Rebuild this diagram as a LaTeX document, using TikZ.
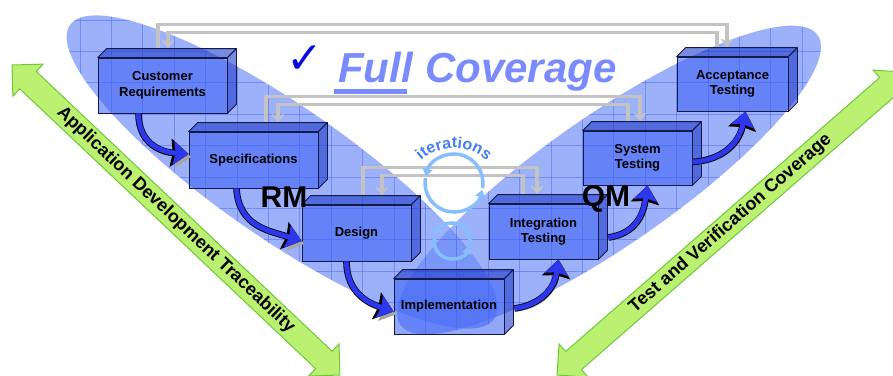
\documentclass[tikz,border=0pt]{standalone}
\usepackage{fontspec}
\setmainfont{Liberation Sans}
\newfontfamily\checkfont{DejaVu Sans}
\usetikzlibrary{arrows.meta,decorations.text,positioning}

\definecolor{lobeblue}{RGB}{105,135,248}
\definecolor{gridblue}{RGB}{80,110,245}
\definecolor{boxblue}{RGB}{55,95,245}
\definecolor{boxdark}{RGB}{30,60,205}
\definecolor{boxedge}{RGB}{20,25,70}
\definecolor{swooshblue}{RGB}{45,55,235}
\definecolor{shadowgray}{RGB}{165,165,165}
\definecolor{loopgray}{RGB}{195,195,195}
\definecolor{fullblue}{RGB}{122,138,255}
\definecolor{tickblue}{RGB}{10,10,225}
\definecolor{ringblue}{RGB}{135,190,255}
\definecolor{iterblue}{RGB}{70,125,245}
\definecolor{bandgreen}{RGB}{188,240,112}
\definecolor{bandedge}{RGB}{110,200,60}

\newcommand\iterfont{\color{iterblue}\bfseries\fontsize{16}{16}\selectfont}

\pgfdeclarelayer{back}
\pgfdeclarelayer{loops}
\pgfsetlayers{back,loops,main}

\tikzset{
  lobe/.style={fill=lobeblue, fill opacity=0.65},
  gridline/.style={draw=gridblue, line width=0.7pt, opacity=0.55},
  stage/.style={draw=boxedge, line width=0.8pt, fill=boxblue, fill opacity=0.55, text opacity=1,
    minimum height=55pt, inner sep=0pt, align=center, font=\bfseries\fontsize{13}{15.5}\selectfont},
  boxface/.style={draw=boxedge, line width=0.8pt, fill=boxdark, fill opacity=0.6, line join=round},
  loopline/.style={draw=loopgray, line width=3.2pt, -{Stealth[length=9pt,width=13pt,inset=3pt]}},
  swoosh/.style={draw=swooshblue, line width=5pt, -{Stealth[length=6pt 1.8,width=8pt 3,inset=2pt]},
    preaction={draw=shadowgray, transform canvas={shift={(2.5pt,-3pt)}}},
    preaction={draw=black, line width=6.6pt}},
  ring/.style={draw=ringblue, line width=3.5pt, -{Triangle[length=7pt,width=10pt]}},
  bigarrow/.style={fill=bandgreen, draw=bandedge, line width=1pt},
  bandtext/.style={font=\bfseries\fontsize{18}{18}\selectfont, inner sep=0pt},
  covtext/.style={inner sep=0pt, text=fullblue, font=\bfseries\itshape\fontsize{42}{42}\selectfont},
  bigmark/.style={inner sep=0pt, font=\bfseries\fontsize{30}{30}\selectfont}
}

\begin{document}
\begin{tikzpicture}[x=1pt,y=-1pt]
  \useasboundingbox (0,0) rectangle (893,375);

  % the two lobes with their grid
  \begin{pgfonlayer}{back}
    \foreach \cx/\cy/\tilt/\ra/\rb in {282/172/-34.7/258/66, 609/180/34.75/254/65}{
      \fill[lobe, rotate around={\tilt:(\cx,\cy)}] (\cx,\cy) ellipse [x radius=\ra, y radius=\rb];
      \begin{scope}
        \clip[rotate around={\tilt:(\cx,\cy)}] (\cx,\cy) ellipse [x radius=\ra, y radius=\rb];
        \foreach \gx in {17.2,48.6,...,893} \draw[gridline] (\gx,0) -- (\gx,375);
        \foreach \gy in {20,51.4,...,375} \draw[gridline] (0,\gy) -- (893,\gy);
      \end{scope}
    }
  \end{pgfonlayer}

  % stages
  \node[stage, minimum width=129pt] (cr) at (162.5,85.5) {Customer\\Requirements};
  \node[stage, minimum width=129pt, minimum height=56pt] (spec) at (253.5,160) {Specifications};
  \node[stage, minimum width=109pt, minimum height=56pt] (design) at (356.5,233) {Design};
  \node[stage, minimum width=110pt] (impl) at (449,306.5) {Implementation};
  \node[stage, minimum width=109pt] (integ) at (543.5,231.5) {Integration\\Testing};
  \node[stage, minimum width=109pt, minimum height=54pt] (systest) at (637.5,158) {System\\Testing};
  \node[stage, minimum width=111pt, minimum height=54pt] (accept) at (732.5,84) {Acceptance\\Testing};
  \foreach \boxname in {cr,spec,design,impl,integ,systest,accept}{
    \filldraw[boxface] (\boxname.north west) -- ++(9,-9) -- ([shift={(9,-9)}]\boxname.north east) -- (\boxname.north east) -- cycle;
    \filldraw[boxface] (\boxname.north east) -- ++(9,-9) -- ([shift={(9,-9)}]\boxname.south east) -- (\boxname.south east) -- cycle;
  }

  % feedback loops
  \begin{pgfonlayer}{loops}
    \draw[loopline] ([shift={(-4.5,-9)}]cr.north) -- ++(0,-24) -| ([shift={(-5.5,-9)}]accept.north);
    \draw[loopline] ([shift={(-15.5,-9)}]accept.north) -- ++(0,-15) -| ([shift={(5.5,-9)}]cr.north);
    \draw[loopline] ([shift={(12.5,-9)}]spec.north) -- ++(0,-26) -| ([shift={(2.5,-9)}]systest.north);
    \draw[loopline] ([shift={(-9.5,-9)}]systest.north) -- ++(0,-17) -| ([shift={(24.5,-9)}]spec.north);
    \draw[loopline] ([shift={(6.5,-9)}]design.north) -- ++(0,-28) -| ([shift={(-6.5,-9)}]integ.north);
    \draw[loopline] ([shift={(-20.5,-9)}]integ.north) -- ++(0,-19) -| ([shift={(25.5,-9)}]design.north);
  \end{pgfonlayer}

  % flow
  \draw[swoosh] ([xshift=-24pt]cr.south) .. controls +(0,30) and +(-28,-2) .. ([yshift=6pt]spec.west);
  \draw[swoosh] ([xshift=-17pt]spec.south) .. controls +(2,38) and +(-32,-10) .. ([yshift=-8pt]design.west);
  \draw[swoosh] ([xshift=-10pt]design.south) .. controls +(0,32) and +(-24,-8) .. ([yshift=-5pt]impl.west);
  \draw[swoosh] ([shift={(10,2)}]impl.east) .. controls +(28,-4) and +(-4,28) .. ([xshift=15pt]integ.south);
  \draw[swoosh] ([shift={(10,6)}]integ.east) .. controls +(28,-4) and +(-4,28) .. ([xshift=10pt]systest.south);
  \draw[swoosh] ([shift={(0,4)}]systest.east) .. controls +(32,-2) and +(-6,30) .. ([xshift=13pt]accept.south);

  \node[bigmark, anchor=base] (rm) at (284,207) {RM};
  \node[bigmark, anchor=base] (qm) at (606,206) {QM};

  % iterations
  \coordinate (itc) at (454,183);
  \coordinate (itl) at (452,241);
  \coordinate (itext) at (454,196);
  \draw[ring] ([shift={(10:29)}]itc) arc[start angle=10, end angle=-166, radius=29];
  \draw[ring] ([shift={(-170:29)}]itc) arc[start angle=-170, end angle=-346, radius=29];
  \draw[ring] ([shift={(10:18)}]itl) arc[start angle=10, end angle=-162, radius=18];
  \draw[ring] ([shift={(-170:18)}]itl) arc[start angle=-170, end angle=-342, radius=18];
  \path[decorate, decoration={text along path, text align=center, text={|\iterfont|iterations}}]
    ([shift={(-152:48)}]itext) arc[start angle=-152, end angle=-28, radius=48];

  % title
  \node[text=tickblue, font=\checkfont\fontsize{44}{44}\selectfont] (tick) at (305,60) {✓};
  \node[covtext, anchor=base west] (full) at (338,82) {Full};
  \node[covtext, anchor=base west] (coverage) at ([xshift=12pt]full.base east) {Coverage};
  \fill[fullblue] ([shift={(-4,7)}]full.base west) rectangle ([shift={(-6,12)}]full.base east);

  % side arrows
  \begin{scope}[shift={(12,65)}, rotate=-43.4]
    \filldraw[bigarrow] (0,0) -- (22,22) -- (22,12) -- (429.3,12) -- (429.3,22) -- (451.3,0)
      -- (429.3,-22) -- (429.3,-12) -- (22,-12) -- (22,-22) -- cycle;
    \node[bandtext, rotate=-43.4] (adt) at (225.6,0) {Application Development Traceability};
  \end{scope}
  \begin{scope}[shift={(557,375)}, rotate=41.1]
    \filldraw[bigarrow] (0,0) -- (22,22) -- (22,12) -- (438.7,12) -- (438.7,22) -- (460.7,0)
      -- (438.7,-22) -- (438.7,-12) -- (22,-12) -- (22,-22) -- cycle;
    \node[bandtext, rotate=41.1] (tvc) at (230.3,0) {Test and Verification Coverage};
  \end{scope}
\end{tikzpicture}
\end{document}
